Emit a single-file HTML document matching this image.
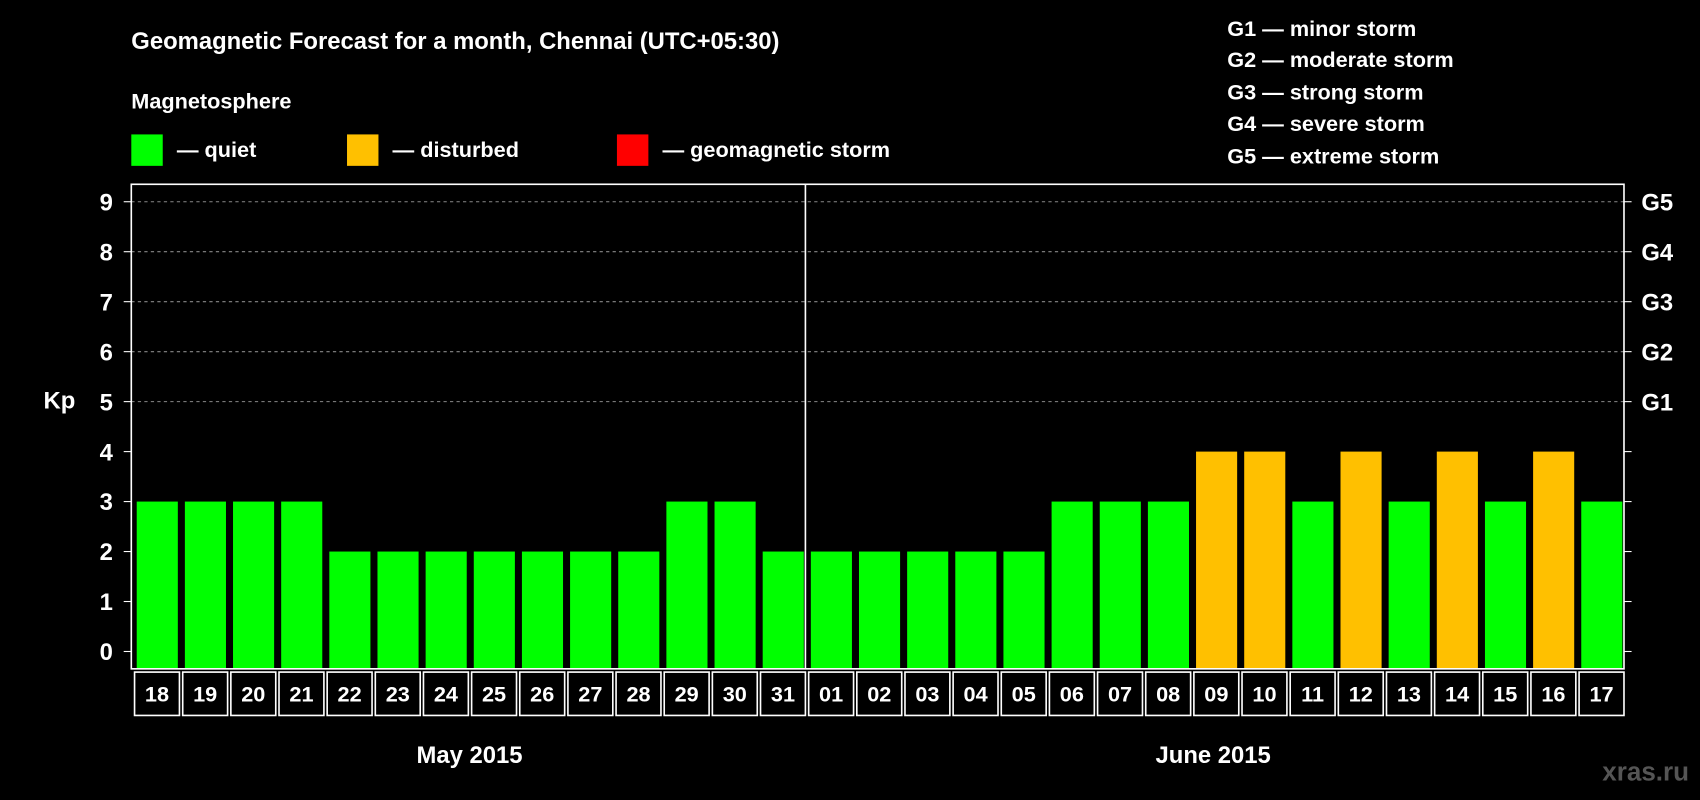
<!DOCTYPE html>
<html><head><meta charset="utf-8"><style>
html,body{margin:0;padding:0;background:#000;}
svg{display:block;font-family:"Liberation Sans",Arial,sans-serif;font-weight:bold;}
</style></head><body>
<svg id="chart" width="1700" height="800" viewBox="0 0 1568 738" xmlns="http://www.w3.org/2000/svg">
<rect width="1568" height="738" fill="#000"/>
<text x="121" y="45" fill="#fff" font-size="22">Geomagnetic Forecast for a month, Chennai (UTC+05:30)</text>
<text x="121" y="100" fill="#fff" font-size="20">Magnetosphere</text>
<rect x="121" y="124" width="29" height="29" fill="#00ff00"/>
<text x="163" y="145" fill="#fff" font-size="20">— quiet</text>
<rect x="320" y="124" width="29" height="29" fill="#ffc000"/>
<text x="362" y="145" fill="#fff" font-size="20">— disturbed</text>
<rect x="569" y="124" width="29" height="29" fill="#ff0000"/>
<text x="611" y="145" fill="#fff" font-size="20">— geomagnetic storm</text>
<g fill="#fff" font-size="20">
<text x="1132" y="33">G1 — minor storm</text>
<text x="1132" y="62">G2 — moderate storm</text>
<text x="1132" y="92">G3 — strong storm</text>
<text x="1132" y="121">G4 — severe storm</text>
<text x="1132" y="151">G5 — extreme storm</text>
</g>
<text x="40" y="377" fill="#fff" font-size="22">Kp</text>
<text x="433" y="704" fill="#fff" font-size="22" text-anchor="middle">May 2015</text>
<text x="1119" y="704" fill="#fff" font-size="22" text-anchor="middle">June 2015</text>
<text x="1558" y="720" fill="#555" font-size="24" text-anchor="end">xras.ru</text>
<g id="plot"></g>
</svg>
<script>
const days = ["18","19","20","21","22","23","24","25","26","27","28","29","30","31","01","02","03","04","05","06","07","08","09","10","11","12","13","14","15","16","17"];
const kpValues = [3,3,3,3,2,2,2,2,2,2,2,3,3,2,2,2,2,2,2,3,3,3,4,4,3,4,3,4,3,4,3];
const yTicks = [0,1,2,3,4,5,6,7,8,9];
const gLabels = ["G1","G2","G3","G4","G5"];
const gLevels = [5,6,7,8,9];
const gridLevels = [5,6,7,8,9];

const NS="http://www.w3.org/2000/svg";
const L=121,R=1498,T=170,B=617;
const slot=(R-L)/days.length;
const y=v=>601-v*46.1;
const x=i=>L+i*slot;
const g=document.getElementById('plot');
function mk(t,a){const e=document.createElementNS(NS,t);for(const k in a)e.setAttribute(k,a[k]);g.appendChild(e);return e;}
gridLevels.forEach(v=>{
  const e=mk('line',{x1:L,x2:R,y1:y(v),y2:y(v),stroke:'#888','stroke-dasharray':'3,3'});
  
  
});
kpValues.forEach((v,i)=>{
  const e=mk('rect',{x:x(i)+5,y:y(v),width:slot-6.5,height:B-y(v),fill:v>=5?'#ff0000':(v>=4?'#ffc000':'#00ff00')});
  
  
});
const frame=mk('rect',{x:L,y:T,width:R-L,height:B-T,fill:'none',stroke:'#fff','stroke-width':1.5});


const div=mk('line',{x1:x(14),x2:x(14),y1:T,y2:B,stroke:'#fff','stroke-width':1.5});


yTicks.forEach(v=>{
  mk('line',{x1:L-7,x2:L,y1:y(v),y2:y(v),stroke:'#fff'});
  mk('line',{x1:R,x2:R+7,y1:y(v),y2:y(v),stroke:'#fff'});
  const t=mk('text',{x:104,y:y(v)+8,fill:'#fff','font-size':22,'text-anchor':'end'});
  t.textContent=v;
  
  
});
gLevels.forEach((v,i)=>{
  const t=mk('text',{x:1514,y:y(v)+8,fill:'#fff','font-size':22});
  t.textContent=gLabels[i];
  
  
});
days.forEach((d,i)=>{
  const c=mk('rect',{x:x(i)+3,y:620,width:slot-3,height:40,fill:'none',stroke:'#fff','stroke-width':1.5});
  
  
  const t=mk('text',{x:x(i)+slot/2+1.5,y:647,fill:'#fff','font-size':20,'text-anchor':'middle'});
  t.textContent=d;
  
  
});
</script>
</body></html>
